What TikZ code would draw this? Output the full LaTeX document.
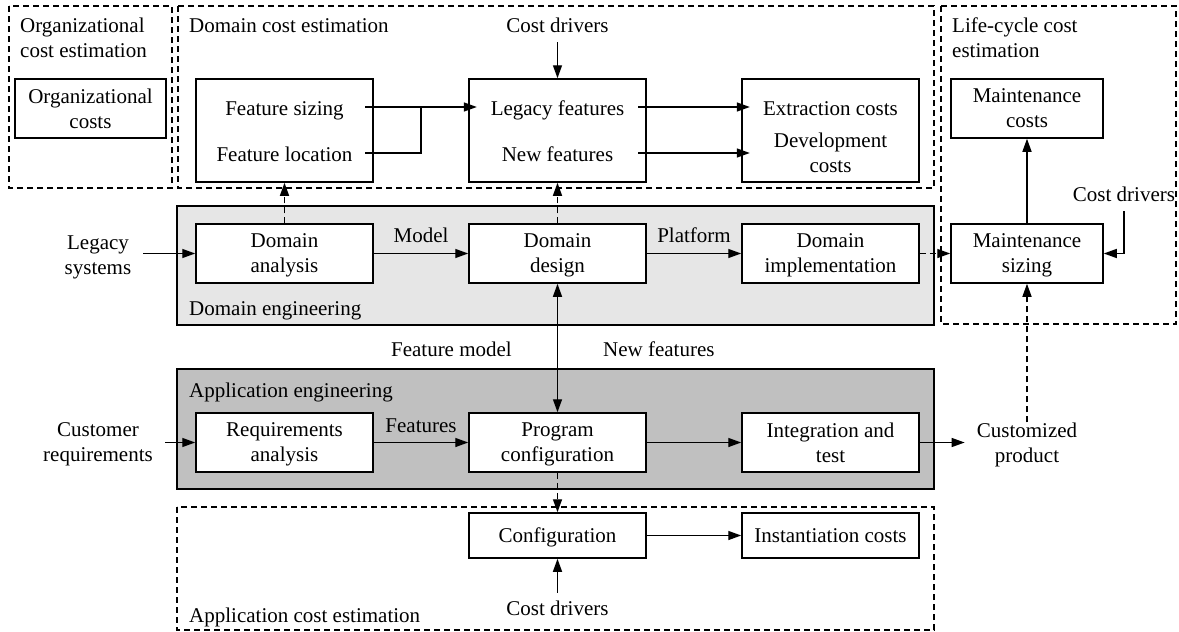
\documentclass[tikz,border=0pt]{standalone}
\usepackage{fontspec}
\setmainfont{Liberation Serif}
\usetikzlibrary{arrows.meta}
\definecolor{dengfill}{HTML}{E6E6E6}
\definecolor{aengfill}{HTML}{C0C0C0}
% a line whose descenders do not shift the vertical centring of its box
\newcommand\nodesc[1]{\raisebox{0pt}[\height][0pt]{#1}}
\begin{document}
\begin{tikzpicture}[x=1pt,y=-1pt,
  txt/.style={font=\fontsize{21}{25}\selectfont},
  lbl/.style={txt, inner sep=0pt, text height=16pt, text depth=0pt},
  multi/.style={txt, inner sep=0pt, align=center},
  blk/.style={txt, draw, line width=1.5pt, fill=white, inner sep=0pt, align=center,
              minimum width=177pt, minimum height=59pt},
  frame/.style={line width=1.2pt, dash pattern=on 6pt off 4pt},
  eng/.style={draw, line width=1.5pt},
  plain/.style={line width=1.4pt},
  arr/.style={plain, -{Triangle[length=13pt,width=9pt]}},
  darr/.style={arr, dash pattern=on 6pt off 4pt},
  biarr/.style={plain, {Triangle[length=13pt,width=9pt]}-{Triangle[length=13pt,width=9pt]}},
]
\useasboundingbox (0,0) rectangle (1179,632);

% engineering bands and estimation regions
\draw[eng, fill=dengfill] (177,206) rectangle (934,325);
\draw[eng, fill=aengfill] (177,369) rectangle (934,489);
\draw[frame] (9,6) rectangle (172,188);
\draw[frame] (178,6) rectangle (934,188);
\draw[frame] (941,6) rectangle (1176,324);
\draw[frame] (177,507) rectangle (934,630);

% region titles
\node[multi, align=left, anchor=west] (orgt) at (20,37.5) {Organizational\\cost estimation};
\node[lbl, anchor=west] (domt) at (189,24) {Domain cost estimation};
\node[multi, align=left, anchor=west] (lct) at (952,37.5) {Life-cycle cost\\estimation};
\node[lbl, anchor=west] (dengt) at (189,307) {Domain engineering};
\node[lbl, anchor=west] (aengt) at (189,389) {Application engineering};
\node[lbl, anchor=west] (acet) at (189,614) {Application cost estimation};

% cost estimation boxes
\node[blk, minimum width=151pt] (oc) at (90.5,108.5) {Organizational\\costs};
\node[blk, minimum height=103pt] (fbox) at (284.5,130.5) {};
\node[blk, minimum height=103pt] (lbox) at (557.5,130.5) {};
\node[blk, minimum height=103pt] (ebox) at (830.5,130.5) {};
\node[lbl, minimum width=161pt] (fs) at (284.5,107) {Feature sizing};
\node[lbl, minimum width=161pt] (fl) at (284.5,153) {Feature location};
\node[lbl, minimum width=161pt] (lf) at (557.5,107) {Legacy features};
\node[lbl, minimum width=161pt] (nf) at (557.5,153) {New features};
\node[lbl, minimum width=161pt] (ec) at (830.5,107) {Extraction costs};
\node[multi, minimum width=161pt] (dc) at (830.5,153) {Development\\costs};
\node[blk, minimum width=152pt] (mc) at (1027,108.5) {Maintenance\\costs};
\node[blk, minimum width=152pt] (ms) at (1027,253.5) {Maintenance\\\nodesc{sizing}};

% process boxes
\node[blk] (da) at (284.5,253.5) {Domain\\\nodesc{analysis}};
\node[blk] (dd) at (557.5,253.5) {Domain\\\nodesc{design}};
\node[blk] (di) at (830.5,253.5) {Domain\\\nodesc{implementation}};
\node[blk] (ra) at (284.5,442.5) {Requirements\\\nodesc{analysis}};
\node[blk] (pc) at (557.5,442.5) {Program\\\nodesc{configuration}};
\node[blk] (it) at (830.5,442.5) {Integration and\\test};
\node[blk, minimum height=45pt] (conf) at (557.5,535.5) {\nodesc{Configuration}};
\node[blk, minimum height=45pt] (inst) at (830.5,535.5) {Instantiation costs};

% inputs, outputs and drivers
\node[lbl, inner ysep=10pt] (cd1) at (557.5,24) {Cost drivers};
\node[lbl, inner ysep=10pt] (cd2) at (1124,193) {Cost drivers};
\node[lbl, inner ysep=6pt] (cd3) at (557.5,607) {Cost drivers};
\node[multi, inner xsep=12pt] (ls) at (98,257.5) {Legacy\\systems};
\node[multi, inner xsep=12pt] (cr) at (98,444.5) {Customer\\requirements};
\node[multi, inner xsep=12pt] (cp) at (1027,444.5) {Customized\\product};
\node[lbl, anchor=east] (fm) at (512,348) {Feature model};
\node[lbl, anchor=west] (nfl) at (603,348) {New features};

% connectors
\draw[arr] (cd1.south) -- (lbox.north);
\coordinate (jn) at (421,107);
\draw[arr] (fs.east) -- (lf.west);
\draw[plain] (fl.east) -| (jn);
\draw[arr] (lf.east) -- (ec.west);
\draw[arr] (nf.east) -- (dc.west);
\draw[darr] (da.north) -- (fbox.south);
\draw[darr] (dd.north) -- (lbox.south);
\draw[arr] (ls.east |- da.west) -- (da.west);
\draw[arr] (da.east) -- node[lbl, above=10pt] (mdl) {Model} (dd.west);
\draw[arr] (dd.east) -- node[lbl, above=10pt] (plt) {Platform} (di.west);
\draw[darr] (di.east) -- (ms.west);
\draw[arr] (ms.north) -- (mc.south);
\draw[arr] (cd2.south) |- (ms.east);
\draw[biarr] (dd.south) -- (pc.north);
\draw[arr] (cr.east |- ra.west) -- (ra.west);
\draw[arr] (ra.east) -- node[lbl, above=9pt] (fts) {Features} (pc.west);
\draw[arr] (pc.east) -- (it.west);
\draw[arr] (it.east) -- (cp.west |- it.east);
\draw[darr] (cp.north) -- (ms.south);
\draw[darr] (pc.south) -- (conf.north);
\draw[arr] (conf.east) -- (inst.west);
\draw[arr] (cd3.north) -- (conf.south);
\end{tikzpicture}
\end{document}
